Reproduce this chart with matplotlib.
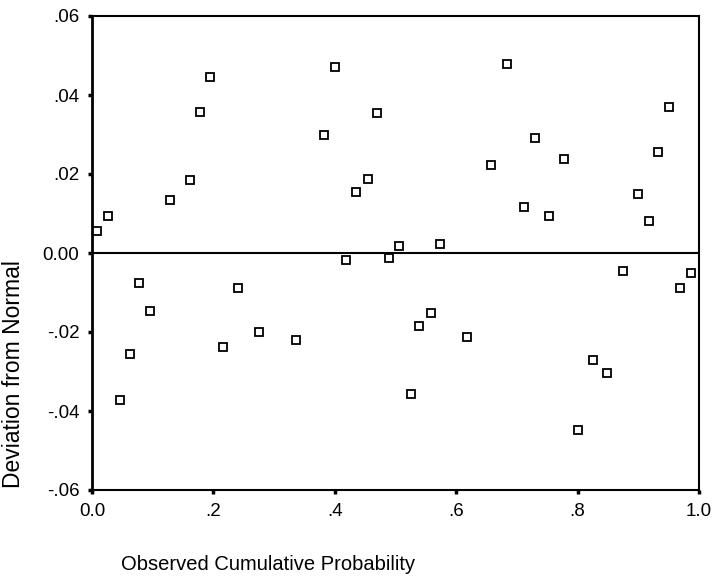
import matplotlib
matplotlib.use("Agg")
import matplotlib.pyplot as plt

# observed cumulative probability and deviation from normal
prob = [0.008, 0.026, 0.046, 0.063, 0.078, 0.096, 0.128, 0.162, 0.178, 0.194,
        0.216, 0.241, 0.275, 0.336, 0.383, 0.401, 0.418, 0.435, 0.454, 0.469,
        0.490, 0.505, 0.525, 0.539, 0.558, 0.574, 0.618, 0.658, 0.683, 0.711,
        0.729, 0.753, 0.778, 0.800, 0.825, 0.849, 0.874, 0.899, 0.918, 0.933,
        0.951, 0.969, 0.987]
dev = [0.0056, 0.0094, -0.0372, -0.0255, -0.0077, -0.0146, 0.0133, 0.0186, 0.0358, 0.0445,
       -0.0238, -0.0088, -0.0201, -0.0221, 0.0300, 0.0470, -0.0018, 0.0154, 0.0187, 0.0355,
       -0.0013, 0.0018, -0.0357, -0.0184, -0.0152, 0.0022, -0.0212, 0.0223, 0.0479, 0.0116,
       0.0291, 0.0093, 0.0239, -0.0448, -0.0271, -0.0305, -0.0045, 0.0149, 0.0082, 0.0256,
       0.0370, -0.0088, -0.0051]

xticks = [0.0, 0.2, 0.4, 0.6, 0.8, 1.0]
xtick_labels = ["0.0", ".2", ".4", ".6", ".8", "1.0"]
yticks = [-0.06, -0.04, -0.02, 0.0, 0.02, 0.04, 0.06]
ytick_labels = ["-.06", "-.04", "-.02", "0.00", ".02", ".04", ".06"]

plt.rcParams["font.family"] = ["Liberation Sans", "DejaVu Sans"]

fig = plt.figure(figsize=(7.14, 5.8), dpi=100)
ax = fig.add_axes([92 / 714, 1 - 490 / 580, (699 - 92) / 714, (490 - 16) / 580])

ax.axhline(0, color="black", lw=1.5, zorder=1)
ax.plot(prob, dev, ls="none", marker="s", markersize=5.8, markerfacecolor="white",
        markeredgecolor="black", markeredgewidth=1.3, zorder=3)

ax.set_xlim(0, 1)
ax.set_ylim(-0.06, 0.06)
ax.set_xticks(xticks)
ax.set_xticklabels(xtick_labels)
ax.set_yticks(yticks)
ax.set_yticklabels(ytick_labels)
ax.tick_params(axis="both", direction="out", length=3, width=2.5, labelsize=13.5, pad=6)

for s in ax.spines.values():
    s.set_linewidth(1.5)
ax.spines["left"].set_linewidth(2)

fig.text(14 / 714, 1 - 374 / 580, "Deviation from Normal", rotation=90,
         ha="center", va="center", fontsize=16.5)
fig.text(121 / 714, 1 - 565 / 580, "Observed Cumulative Probability",
         ha="left", va="center", fontsize=14.5)

fig.savefig("out.png", dpi=100)
